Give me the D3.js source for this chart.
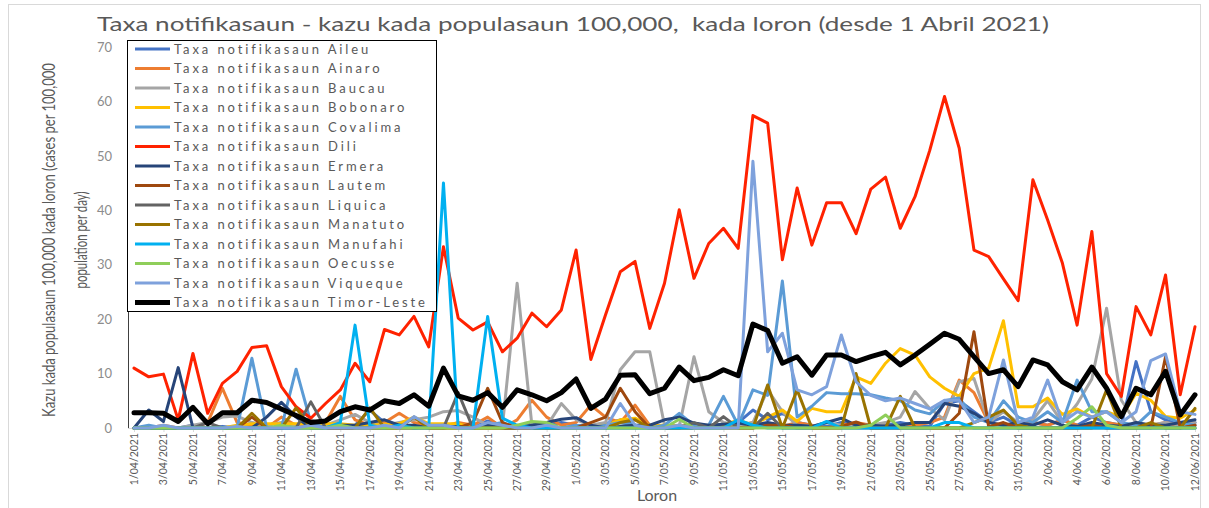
<!DOCTYPE html>
<html lang="en">
<head>
    <meta charset="UTF-8">
    <title>Taxa notifikasaun</title>
    <script type="text/javascript" src="https://cdn.jsdelivr.net/npm/d3@7/dist/d3.min.js"></script>
    <style>
        body { margin: 0; background: #fff; }
        text { font-family: Lato, "Open Sans", sans-serif; }
    </style>
</head>
<body>
<script type="text/javascript">
    var w = 1209;
    var h = 508;

    // one category per day, 1 April to 12 June 2021
    var dates = d3.timeDay.range(new Date(2021, 3, 1), new Date(2021, 5, 13)).map(d3.timeFormat("%-d/%m/%Y"));
    var yTicks = [0, 10, 20, 30, 40, 50, 60, 70];

    var names = ["Aileu", "Ainaro", "Baucau", "Bobonaro", "Covalima", "Dili", "Ermera", "Lautem",
        "Liquica", "Manatuto", "Manufahi", "Oecusse", "Viqueque", "Timor-Leste"];

    var aileu = [0, 0, 0, 0, 0.5, 0, 0.3, 0, 0.5, 0,
        0, 0.5, 1.0, 0, 0, 0.5, 3.3, 1.0, 0.5, 0,
        0.3, 0, 0.5, 0, 1.3, 0.5, 0, 0.8, 0.5, 1.0,
        0.5, 0.3, 0.8, 1.5, 0.5, 0, 0.3, 0.5, 0.3, 0,
        0.5, 1.0, 3.3, 1.5, 2.7, 1.0, 0.5, 0.3, 1.0, 0.5,
        0.3, 0.5, 1.0, 0.5, 0.3, 4.5, 5.0, 3.0, 1.0, 2.0,
        0.5, 1.0, 0.5, 1.5, 0.5, 2.0, 1.0, 0.5, 12.2, 3.0,
        1.5, 0.5, 1.0];
    var ainaro = [0, 0, 0.5, 0, 0, 1.0, 7.3, 1.0, 0.5, 0,
        2.0, 0.5, 0, 1.0, 5.8, 1.5, 0.5, 1.0, 2.7, 1.0,
        0.5, 0.3, 1.0, 0.5, 2.0, 0, 1.5, 5.1, 2.0, 0.5,
        1.0, 4.2, 2.0, 1.0, 4.2, 0.5, 0, 0.5, 0.3, 0,
        0.5, 0.3, 1.0, 0.5, 0.3, 1.0, 0.5, 0, 0.5, 1.0,
        0.5, 0.3, 0, 0.5, 1.0, 2.0, 8.8, 6.5, 1.0, 0.5,
        0.3, 1.0, 0.5, 1.5, 0.5, 0.3, 1.0, 0.5, 0.3, 0.5,
        1.0, 0.3, 0.5];
    var baucau = [0, 0, 0, 0, 0.5, 1.0, 2.0, 2.2, 1.0, 0.5,
        1.0, 0.5, 1.5, 0.5, 1.5, 2.5, 1.0, 0.5, 1.0, 1.5,
        2.0, 3.0, 3.2, 2.0, 0.5, 0.3, 26.6, 0.5, 0.3, 4.5,
        1.5, 0.5, 1.0, 10.7, 14.0, 14.0, 0.5, 0.3, 13.1, 3.0,
        1.0, 0.5, 1.0, 7.0, 3.0, 0.5, 0.3, 1.0, 0.5, 0.3,
        0.5, 1.0, 2.0, 6.7, 3.6, 1.5, 8.5, 9.1, 1.0, 3.0,
        1.0, 1.5, 5.0, 1.0, 4.4, 9.0, 22.0, 5.1, 1.0, 0.5,
        1.0, 0.5, 1.0];
    var bobonaro = [0, 0, 0, 0, 0, 0, 0, 0.5, 0.8, 0.8,
        0.8, 0.8, 0.8, 0.8, 0.8, 0.5, 0.5, 0.7, 0.8, 2.0,
        0.8, 0.8, 0.8, 0, 0, 0, 0, 0, 0, 0,
        0, 0, 0.5, 1.5, 1.8, 0.5, 0.5, 0.3, 0.3, 0.5,
        0.5, 1.5, 0.5, 2.0, 3.3, 1.2, 3.6, 3.0, 3.0, 9.4,
        8.2, 11.9, 14.6, 13.4, 9.4, 7.3, 5.8, 10.0, 11.0, 19.7,
        3.9, 3.9, 5.5, 2.5, 3.5, 2.0, 3.0, 2.0, 6.4, 5.1,
        2.1, 1.8, 3.3];
    var covalima = [0, 0.5, 0, 0, 0, 0, 0, 0, 12.8, 0,
        0, 10.8, 1.0, 0, 0, 0, 0, 0, 0.5, 0,
        0.3, 0.5, 0, 0, 0.5, 1.0, 0, 0.5, 0, 0,
        0.5, 0, 0.5, 1.0, 0.5, 0, 0.5, 2.7, 0.5, 0.5,
        5.8, 0.5, 7.0, 6.0, 27.0, 2.0, 4.0, 6.5, 6.3, 6.3,
        6.1, 5.5, 5.0, 3.3, 2.6, 5.0, 5.5, 2.0, 1.0, 5.0,
        2.0, 1.0, 3.0, 1.0, 8.8, 3.0, 3.0, 1.0, 0.5, 3.0,
        2.0, 1.0, 0.5];
    var dili = [11.0, 9.4, 9.9, 1.5, 13.7, 2.7, 8.2, 10.4, 14.8, 15.1,
        7.6, 3.9, 1.8, 4.5, 7.0, 11.9, 8.5, 18.1, 17.1, 20.5,
        14.9, 33.3, 20.2, 18.0, 19.5, 14.0, 16.5, 21.1, 18.6, 21.7,
        32.7, 12.6, 20.8, 28.7, 30.6, 18.3, 26.6, 40.1, 27.5, 33.9,
        36.7, 33.0, 57.4, 56.0, 30.9, 44.1, 33.6, 41.4, 41.4, 35.7,
        43.9, 46.1, 36.7, 42.5, 51.0, 60.9, 51.4, 32.7, 31.5, 27.4,
        23.4, 45.6, 38.2, 30.3, 18.9, 36.1, 10.0, 5.8, 22.3, 17.1,
        28.1, 6.1, 18.6];
    var ermera = [0, 3.3, 1.2, 11.1, 0, 0, 0, 0, 0, 2.0,
        4.7, 2.0, 0, 0, 0.5, 0.5, 1.0, 1.5, 0.5, 0.5,
        0, 0, 0.3, 0, 0.5, 0, 0, 0.5, 1.0, 1.6,
        1.9, 0.5, 0, 0.3, 0.5, 0.5, 1.5, 2.0, 0.9, 0.5,
        0.7, 0.9, 0.5, 1.0, 0.5, 0.5, 0.3, 1.0, 1.8, 0.5,
        0.5, 0.3, 0.5, 1.0, 1.0, 4.5, 4.0, 2.7, 1.0, 0.5,
        1.0, 0.5, 1.5, 0.5, 0.3, 1.0, 0.5, 0.3, 1.0, 0.5,
        0.5, 1.0, 1.5];
    var lautem = [0, 0, 0, 0, 0, 0, 0, 0, 2.0, 0,
        0, 0, 0, 0, 0, 0, 0, 0, 0, 0,
        0, 0, 0, 1.0, 7.3, 1.0, 0, 0, 0, 0,
        0, 1.0, 2.0, 7.3, 3.0, 0, 0, 0, 0, 0,
        0, 0, 0, 0.5, 0.5, 0, 0, 0, 0.3, 1.1,
        0, 0, 0, 0, 0, 0, 2.7, 17.7, 0.2, 1.0,
        0, 0, 0, 0, 0, 0.5, 0, 0, 0, 0,
        13.1, 0, 0.5];
    var liquica = [0, 0, 0, 0, 0, 1.0, 0, 0, 0, 0,
        0, 0, 4.8, 0, 0, 0, 0, 0, 0, 0,
        0, 0, 6.5, 0, 0, 0, 0, 0, 0, 0,
        0, 0, 0, 0, 0, 0, 0, 0, 1.0, 0,
        2.1, 0, 0, 2.7, 0, 0, 0, 0, 0, 0,
        0, 0, 0, 0, 0, 0, 0, 0, 0, 0,
        0, 0, 0, 0, 0, 0, 0, 0, 0, 0,
        0, 0, 0];
    var manatuto = [0, 0, 0, 0, 0, 0, 0, 0, 2.7, 0,
        0, 3.7, 0, 0, 0, 0, 3.7, 0, 0, 2.0,
        0, 0, 0, 0, 0, 0, 0, 0, 0, 0,
        0, 0, 0, 1.0, 1.5, 0, 0, 0, 0, 0,
        0, 0, 0, 7.9, 0, 7.0, 0, 0, 0, 10.0,
        0, 0, 5.8, 0, 0, 0, 0, 1.0, 2.0, 3.3,
        0.5, 0, 0, 0, 0, 0, 7.0, 0, 0, 1.0,
        0, 0, 3.6];
    var manufahi = [0, 0, 0, 0, 0, 0, 0, 0, 0, 0,
        0, 0, 0, 0, 1.0, 18.9, 0.5, 0, 0.5, 0,
        0, 45.0, 0, 0, 20.5, 1.8, 0.5, 0, 0, 0,
        0, 0, 0, 0, 0, 0, 0, 0, 0, 0,
        0, 1.5, 0.5, 0, 0, 0, 0, 1.2, 0, 0,
        0, 0, 0, 0, 0, 1.0, 1.0, 0, 0, 0,
        0, 0, 0, 0, 0, 0, 0, 0, 0, 0,
        0, 0, 0];
    var oecusse = [0, 0, 0, 0, 0, 0, 0, 0, 0, 0,
        0.5, 0, 0, 0, 0.5, 0, 0, 0, 0, 0,
        0, 0, 0, 0, 0, 0, 0.5, 1.2, 1.0, 0,
        0, 0, 0, 0, 0, 0, 0, 1.6, 0, 0,
        0, 0, 0, 0, 0, 0, 0, 0, 0, 0,
        0.5, 2.4, 0, 0, 0, 0, 0, 0, 0, 0,
        0, 0, 0, 0, 1.8, 3.9, 0.5, 0, 0, 0,
        0, 0, 0];
    var viqueque = [0, 0, 0.5, 0, 0, 0, 0, 0.3, 0, 0,
        0, 0, 0.5, 0, 0, 0, 0, 0.5, 0, 2.1,
        0.5, 0.5, 0, 0, 1.0, 0.5, 0, 0, 0.5, 0,
        0, 0, 0, 4.5, 0.5, 0, 0, 0.5, 0, 0,
        0, 0, 49.0, 14.0, 17.4, 7.0, 6.1, 7.6, 17.1, 8.5,
        6.0, 5.0, 5.5, 4.5, 3.5, 5.1, 5.1, 1.0, 2.0, 12.5,
        1.0, 2.0, 8.8, 1.0, 3.0, 2.0, 3.0, 1.0, 3.0, 12.4,
        13.6, 3.0, 2.5];
    var timorLeste = [2.8, 2.8, 2.7, 1.2, 3.8, 0.8, 2.8, 2.8, 5.1, 4.7,
        3.5, 2.3, 1.0, 1.3, 3.0, 3.9, 3.3, 5.0, 4.5, 6.1,
        4.0, 11.0, 5.9, 5.1, 6.5, 3.8, 7.0, 6.1, 5.0, 6.5,
        9.0, 3.6, 5.3, 9.7, 9.8, 6.3, 7.3, 11.2, 8.7, 9.3,
        10.7, 9.6, 19.1, 17.9, 11.9, 13.1, 9.7, 13.4, 13.4, 12.2,
        13.1, 13.9, 11.6, 13.4, 15.4, 17.4, 16.3, 13.1, 10.0, 10.7,
        7.6, 12.5, 11.6, 8.5, 7.0, 11.2, 7.3, 2.1, 7.3, 6.1,
        10.4, 2.4, 6.1];

    var values = [aileu, ainaro, baucau, bobonaro, covalima, dili, ermera, lautem,
        liquica, manatuto, manufahi, oecusse, viqueque, timorLeste];
    var colors = ["#4472c4", "#ed7d31", "#a5a5a5", "#ffc000", "#5b9bd5", "#ff2200", "#264478", "#9e480e",
        "#636363", "#997300", "#00b0f0", "#8fce5a", "#7ea1dc", "#000000"];

    var svg = d3.select("body")
        .append("svg")
        .attr("width", w)
        .attr("height", h);

    // chart frame
    svg.append("rect")
        .attr("x", 8.5).attr("y", 4.5)
        .attr("width", 1192).attr("height", 510)
        .attr("fill", "none")
        .attr("stroke", "#d9d9d9");

    var x = d3.scalePoint().domain(dates).range([134, 1195]);
    var y = d3.scaleLinear().domain([0, 70]).range([428, 47]);

    // title
    svg.append("text")
        .attr("x", 573).attr("y", 31)
        .attr("text-anchor", "middle")
        .attr("font-size", 20)
        .attr("fill", "#595959")
        .attr("textLength", 952)
        .attr("lengthAdjust", "spacingAndGlyphs")
        .style("white-space", "pre")
        .text("Taxa notifikasaun - kazu kada populasaun 100,000,  kada loron (desde 1 Abril 2021)");

    // y axis
    var yAxis = svg.append("g")
        .attr("transform", "translate(128,0)")
        .call(d3.axisLeft(y).tickValues(yTicks).tickSize(0).tickPadding(16));
    yAxis.select(".domain").attr("stroke", "#404040").attr("d", "M0.5,40V428.5");
    yAxis.selectAll("text").attr("font-size", 13).attr("fill", "#8c8c8c")
        .attr("font-family", "Lato, sans-serif");

    // x axis, labels turned to read upwards
    var xAxis = svg.append("g")
        .attr("transform", "translate(0,428)")
        .call(d3.axisBottom(x)
            .tickValues(dates.filter(function (d, i) { return i % 2 === 0; }))
            .tickSize(4).tickSizeOuter(0));
    xAxis.select(".domain").attr("stroke", "#d9d9d9").attr("d", "M128,0.5H1197");
    xAxis.selectAll(".tick line").attr("stroke", "#d9d9d9");
    xAxis.selectAll("text")
        .attr("font-size", 10.5)
        .attr("fill", "#595959")
        .attr("font-family", "Lato, sans-serif")
        .attr("text-anchor", "end")
        .attr("x", 0).attr("y", 0)
        .attr("dy", "0.32em")
        .attr("transform", "translate(0,5) rotate(-90)");

    // axis titles
    svg.append("text")
        .attr("x", 657).attr("y", 501)
        .attr("text-anchor", "middle")
        .attr("font-size", 16)
        .attr("fill", "#595959")
        .text("Loron");

    // y title: two condensed lines, squeezed to the reference length
    var yTitleLines = [
        {text: "Kazu kada populasaun 100,000 kada loron (cases per 100,000", x: 55, len: 354},
        {text: "population per day)", x: 87, len: 97}
    ];
    yTitleLines.forEach(function (d) {
        var g = svg.append("g");
        var t = g.append("text")
            .attr("x", 0).attr("y", 0)
            .attr("text-anchor", "middle")
            .attr("font-size", 18)
            .attr("fill", "#595959")
            .text(d.text);
        var k = d.len / t.node().getComputedTextLength();
        g.attr("transform", "translate(" + d.x + ",240) rotate(-90) scale(" + k + ",1)");
    });

    // series lines
    var line = d3.line()
        .x(function (d, i) { return x(dates[i]); })
        .y(function (d) { return y(d); });

    svg.selectAll("path.series")
        .data(values)
        .enter()
        .append("path")
        .attr("class", "series")
        .attr("d", line)
        .attr("fill", "none")
        .attr("stroke", function (d, i) { return colors[i]; })
        .attr("stroke-width", function (d, i) { return i === 13 ? 5 : 3; })
        .attr("stroke-linejoin", "round")
        .attr("stroke-linecap", "round");

    // legend
    var legend = svg.append("g");
    legend.append("rect")
        .attr("x", 127.5).attr("y", 40.5)
        .attr("width", 309).attr("height", 271)
        .attr("fill", "#fff")
        .attr("stroke", "#000");

    var items = legend.selectAll("g.item")
        .data(names)
        .enter()
        .append("g")
        .attr("class", "item")
        .attr("transform", function (d, i) { return "translate(0," + (49 + i * 19.5) + ")"; });
    items.append("line")
        .attr("x1", 135).attr("x2", 170)
        .attr("stroke", function (d, i) { return colors[i]; })
        .attr("stroke-width", function (d, i) { return i === 13 ? 5 : 3; });
    items.append("text")
        .attr("x", 174).attr("dy", "0.35em")
        .attr("font-size", 13)
        .attr("font-family", "'DejaVu Sans', sans-serif")
        .attr("letter-spacing", 2.9)
        .attr("fill", "#595959")
        .text(function (d) { return "Taxa notifikasaun " + d; });
</script>
</body>
</html>
